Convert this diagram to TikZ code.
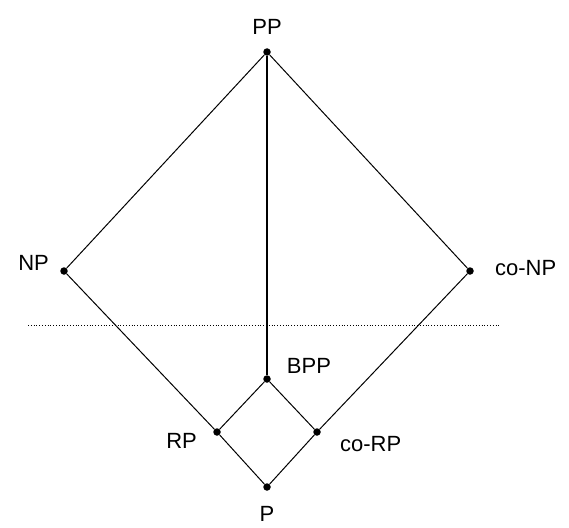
\documentclass[tikz,border=0pt]{standalone}
\usepackage{fontspec}
\setmainfont{Liberation Sans}
\usetikzlibrary{positioning}

\begin{document}
\begin{tikzpicture}[x=1pt, y=-1pt,
    class/.style={circle, fill=black, inner sep=0pt, minimum size=7.5pt},
    lbl/.style={font=\fontsize{22}{22}\selectfont, inner sep=0pt},
    link/.style={draw=black, line width=1pt},
  ]
    \useasboundingbox (0,0) rectangle (569,527);
    % classes
    \node[class] (pp) at (267,52) {};
    \node[class] (np) at (64,271) {};
    \node[class] (conp) at (470,271) {};
    \node[class] (bpp) at (267,379) {};
    \node[class] (rp) at (217,432) {};
    \node[class] (corp) at (317,432) {};
    \node[class] (p) at (267,487) {};
    % names
    \node[lbl, above=13pt of pp] (pplbl) {PP};
    \node[lbl, left=11pt of np, yshift=8pt] (nplbl) {NP};
    \node[lbl, right=21pt of conp, yshift=3pt] (conplbl) {co-NP};
    \node[lbl, above right=3pt and 17pt of bpp] (bpplbl) {BPP};
    \node[lbl, left=16pt of rp, yshift=-9pt] (rplbl) {RP};
    \node[lbl, right=19pt of corp, yshift=-12pt] (corplbl) {co-RP};
    \node[lbl, below=15pt of p] (plbl) {P};
    % inclusions
    \draw[link] (pp) -- (np) -- (rp) -- (p) -- (corp) -- (conp) -- (pp);
    \draw[link, line width=1.4pt] (pp) -- (bpp);
    \draw[link] (rp) -- (bpp) -- (corp);
    % cut line
    \coordinate (cutl) at (28,325);
    \coordinate (cutr) at (500,325);
    \draw[dotted, line width=0.8pt] (cutl) -- (cutr);
\end{tikzpicture}
\end{document}
